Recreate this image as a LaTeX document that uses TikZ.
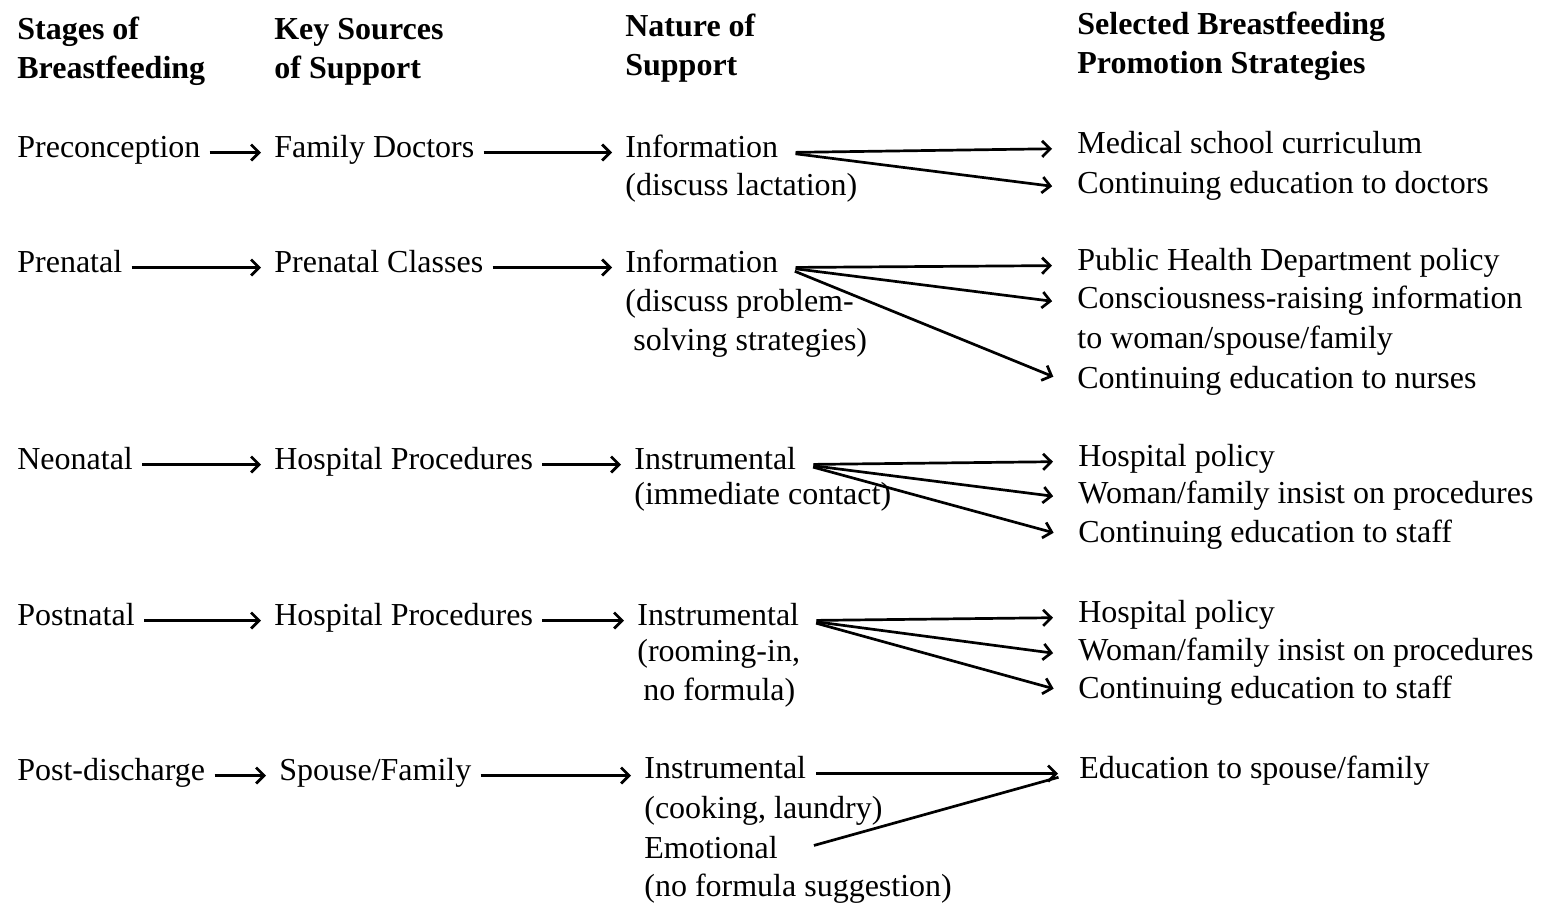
\documentclass[tikz,border=0pt]{standalone}
\usepackage{fontspec}
\setmainfont{Liberation Serif}
\usetikzlibrary{positioning,arrows.meta}
\newcommand{\chartfont}{\fontsize{16}{19.5}\selectfont}

\begin{document}
\begin{tikzpicture}[
    x=0.5pt, y=-0.5pt, >={Straight Barb[length=4pt,width=8pt]},
    line width=1.35pt, font=\chartfont,
    lbl/.style={anchor=base west, inner xsep=3pt, inner ysep=0pt,
      text height=0.7em, text depth=0.25em},
    note/.style={anchor=base west, inner xsep=3pt, inner ysep=0pt, align=left},
    head/.style={note, font=\chartfont\bfseries},
    link/.style={->, shorten <=1pt, shorten >=3pt},
    fan/.style={->, shorten <=5pt, shorten >=9pt}
  ]
  \useasboundingbox (0,0) rectangle (1552,906);

  % column heads
  \node[head] (h1) at (10,78) {Stages of\\Breastfeeding};
  \node[head] (h2) at (267,78) {Key Sources\\of Support};
  \node[head] (h3) at (618,75) {Nature of\\Support};
  \node[head] (h4) at (1070,73) {Selected Breastfeeding\\Promotion Strategies};

  % preconception
  \node[lbl] (s1) at (10,157) {Preconception};
  \node[lbl] (k1) at (267,157) {Family Doctors};
  \node[lbl] (n1) at (618,157) {Information};
  \node[note] (d1) at (618,195) {(discuss lactation)};
  \node[lbl] (p1) at (1070,153) {Medical school curriculum};
  \node[lbl] (q1) at (1070,193) {Continuing education to doctors};

  % prenatal
  \node[lbl] (s2) at (10,272) {Prenatal};
  \node[lbl] (k2) at (267,272) {Prenatal Classes};
  \node[lbl] (n2) at (618,272) {Information};
  \node[note] (d2) at (618,350) {(discuss problem-\\\hspace{4pt}solving strategies)};
  \node[lbl] (p2) at (1070,270) {Public Health Department policy};
  \node[lbl] (q2) at (1070,308) {Consciousness-raising information};
  \node[note] (q2b) at (1070,348) {to woman/spouse/family};
  \node[lbl] (r2) at (1070,388) {Continuing education to nurses};

  % neonatal
  \node[lbl] (s3) at (10,469) {Neonatal};
  \node[lbl] (k3) at (267,469) {Hospital Procedures};
  \node[lbl] (n3) at (627,469) {Instrumental};
  \node[note] (d3) at (627,504) {(immediate contact)};
  \node[lbl] (p3) at (1071,466) {Hospital policy};
  \node[lbl] (q3) at (1071,503) {Woman/family insist on procedures};
  \node[lbl] (r3) at (1071,542) {Continuing education to staff};

  % postnatal
  \node[lbl] (s4) at (10,625) {Postnatal};
  \node[lbl] (k4) at (267,625) {Hospital Procedures};
  \node[lbl] (n4) at (630,625) {Instrumental};
  \node[note] (d4) at (630,700) {(rooming-in,\\\hspace{3pt}no formula)};
  \node[lbl] (p4) at (1071,622) {Hospital policy};
  \node[lbl] (q4) at (1071,660) {Woman/family insist on procedures};
  \node[lbl] (r4) at (1071,698) {Continuing education to staff};

  % post-discharge
  \node[lbl] (s5) at (10,780) {Post-discharge};
  \node[lbl] (k5) at (272,780) {Spouse/Family};
  \node[lbl] (n5) at (637,778) {Instrumental};
  \node[note] (d5) at (637,818) {(cooking, laundry)};
  \node[lbl] (e5) at (637,858) {Emotional};
  \node[note] (f5) at (637,896) {(no formula suggestion)};
  \node[lbl] (p5) at (1072,778) {Education to spouse/family};

  % stage -> source -> nature
  \foreach \i in {1,...,5}{
    \draw[link] (s\i) -- (k\i);
    \draw[link] (k\i) -- (n\i.west |- k\i);
  }

  % nature -> strategies
  \draw[fan] (n1.east) -- (p1.west);
  \draw[fan] (n1.east) -- (q1.west);
  \draw[fan] (n2.east) -- (p2.west);
  \draw[fan] (n2.east) -- (q2.west);
  \draw[fan] (n2.east) -- (r2.west);
  \foreach \i in {3,4}{
    \draw[fan] (n\i.east) -- (p\i.west);
    \draw[fan] (n\i.east) -- (q\i.west);
    \draw[fan] (n\i.east) -- (r\i.west);
  }
  \draw[->, shorten <=1.5pt, shorten >=7pt] (n5.east) -- (p5.west);
  \draw[shorten <=15pt, shorten >=7pt] (e5.east) -- (p5.west);
\end{tikzpicture}
\end{document}
